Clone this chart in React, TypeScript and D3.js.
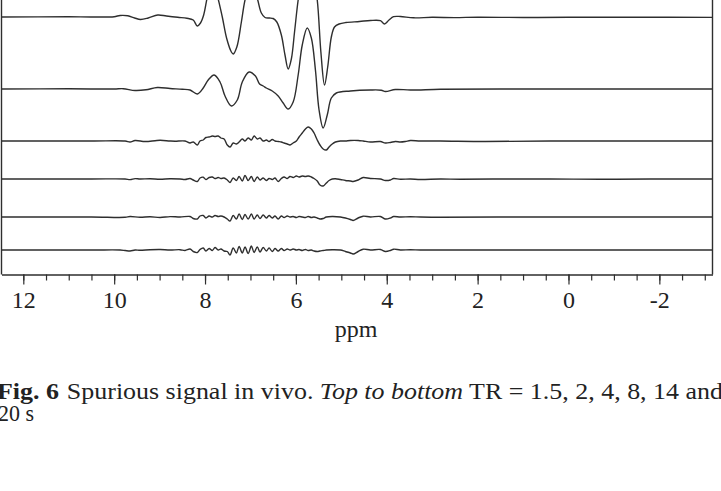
import React, { useEffect, useRef } from "react";
import * as d3 from "d3";

// spectra: [ppm, signal (a.u.)], top to bottom TR = 1.5, 2, 4, 8, 14, 20 s
const trLabels = ["1.5", "2", "4", "8", "14", "20"];
const stackOffsets = [233, 161, 109, 71, 33, 0];

const tr15: [number, number][] = [
  [12.48, 0], [11.0, 0.2], [10.5, 0], [10.0, 0.3], [9.87, 1.5], [9.7, 1.2], [9.55, -1], [9.42, -2.5],
  [9.25, -1], [9.04, 2], [8.85, 1], [8.6, -0.3], [8.4, -1.2], [8.26, -3], [8.17, -9], [8.1, -6],
  [8.03, 2], [7.95, 20], [7.85, 38], [7.78, 32], [7.72, 20], [7.62, 0], [7.52, -22], [7.42, -35],
  [7.38, -37], [7.3, -30], [7.2, -5], [7.12, 17], [7.02, 32], [6.92, 30], [6.84, 17], [6.76, 4],
  [6.68, -0.5], [6.58, -1], [6.5, -1.5], [6.42, -5], [6.32, -18], [6.24, -38], [6.17, -52], [6.1, -42],
  [6.03, -15], [5.95, 17], [5.85, 45], [5.73, 55], [5.62, 42], [5.53, 17], [5.45, -35], [5.37, -68],
  [5.3, -50], [5.22, -20], [5.15, -10], [5.05, -7], [4.9, -5.5], [4.6, -4.5], [4.36, -3.5], [4.14, -3.7],
  [4.05, -7], [3.95, -3], [3.85, 0.3], [3.7, 0.5], [3.41, -0.8], [3.0, -0.3], [2.5, -0.6], [2.0, -0.2],
  [1.0, -0.5], [0.0, -0.3], [-1.5, -0.2], [-3.17, -0.4],
];

const tr2: [number, number][] = [
  [12.48, 0], [11.0, 0.2], [10.0, 0], [9.8, 0.3], [9.54, -1.5], [9.3, -0.8], [9.05, 1.5], [8.77, 0.5],
  [8.5, -0.3], [8.33, -1], [8.17, -5], [8.04, 1], [7.93, 9], [7.8, 14], [7.67, 7], [7.56, -7],
  [7.42, -17], [7.29, -11], [7.18, 7], [7.03, 17], [6.89, 13], [6.8, 5], [6.72, 3], [6.65, 1],
  [6.52, -2], [6.39, -7], [6.28, -14], [6.17, -20], [6.06, -13], [5.95, 14], [5.86, 44], [5.75, 61],
  [5.66, 51], [5.57, 19], [5.49, -21], [5.4, -39], [5.31, -26], [5.22, -9], [5.11, -4], [4.8, -2],
  [4.36, -1], [4.12, -1.2], [4.03, -2.5], [3.81, -0.5], [3.48, -1], [2.82, -0.3], [1.5, 0], [-0.7, 0],
  [-3.17, 0],
];

const tr4: [number, number][] = [
  [12.48, 0], [10.5, 0], [9.76, 0], [9.65, -1], [9.54, 0.5], [9.32, -0.5], [9.1, 0.3], [8.99, 0.7],
  [8.77, 0], [8.66, -0.2], [8.44, 0], [8.33, -2], [8.26, -1], [8.17, -4], [8.11, 0], [8.04, 1],
  [7.98, 3.5], [7.91, 4], [7.84, 5], [7.78, 4.5], [7.71, 5], [7.65, 3], [7.58, 2], [7.51, -4],
  [7.45, -6], [7.38, -2], [7.31, -3], [7.25, -1], [7.18, 2], [7.12, 0], [7.05, 3], [6.98, 1],
  [6.92, 5], [6.85, 2], [6.79, 3], [6.72, 0], [6.65, 1], [6.59, -0.5], [6.52, 1.5], [6.46, 0],
  [6.39, -0.5], [6.32, -1], [6.26, -2], [6.19, -3], [6.13, -4], [6.06, -2], [5.99, 0], [5.93, 4],
  [5.86, 8], [5.79, 12], [5.73, 14], [5.66, 12], [5.6, 8], [5.53, 1], [5.47, -4], [5.4, -8],
  [5.33, -9], [5.27, -6], [5.2, -3], [5.13, -1], [5.02, 0], [4.91, 0], [4.8, 0.5], [4.63, 0.5],
  [4.52, 0], [4.36, -1], [4.14, -0.5], [4.03, -2], [3.92, -1.5], [3.81, -0.5], [3.7, -1], [3.59, -0.5],
  [3.48, 0.5], [3.26, 0], [2.82, 0], [1.83, -0.5], [0.4, 0], [-1.8, 0], [-3.17, 0],
];

const tr8: [number, number][] = [
  [12.48, 0], [10.5, 0], [9.76, 0], [9.65, -0.6], [9.54, 0.4], [9.43, 0], [9.21, 0.3], [8.99, -0.2],
  [8.77, 0.3], [8.55, 0], [8.44, -0.5], [8.33, 0.5], [8.26, -1], [8.17, -2.5], [8.11, 1], [8.04, 1.8],
  [7.98, -0.5], [7.91, 1.5], [7.84, 2], [7.78, 0.5], [7.71, 1.5], [7.65, 0.5], [7.58, 1], [7.51, -1],
  [7.45, -3.5], [7.38, 1], [7.31, -1.5], [7.25, 2.5], [7.18, -2], [7.12, 3.5], [7.05, -1.5], [6.98, 2.5],
  [6.92, -2.5], [6.85, 2], [6.79, -1], [6.72, 1], [6.65, -1.5], [6.59, 0.5], [6.52, -0.5], [6.46, 1],
  [6.39, -2.5], [6.32, 0.5], [6.26, 2], [6.19, 0.5], [6.13, 2.5], [6.06, 1.5], [5.99, 3], [5.93, 2],
  [5.86, 3], [5.79, 2.5], [5.73, 3], [5.66, 2], [5.6, 0.5], [5.53, -2], [5.47, -6], [5.4, -7],
  [5.33, -4], [5.27, -1.5], [5.2, 0], [5.13, 0.3], [5.02, -0.5], [4.91, -1.5], [4.8, -2], [4.74, -2.5],
  [4.63, -1], [4.52, 1.5], [4.36, 0.5], [4.14, 0], [4.03, -1.5], [3.92, -1], [3.85, 0.5], [3.7, -0.3],
  [3.48, 0], [3.26, -0.5], [2.82, 0], [2.38, -0.3], [1.5, 0], [0.4, 0], [-0.7, -0.3], [-1.8, 0],
  [-3.17, 0],
];

const tr14: [number, number][] = [
  [12.48, 0], [10.5, 0], [9.76, -0.3], [9.65, 0.5], [9.43, -0.3], [9.21, 0.3], [8.99, -0.5], [8.77, 0.4],
  [8.55, 0], [8.33, 0.5], [8.26, -1.5], [8.17, -2], [8.11, 1], [8.04, 1.5], [7.98, -1], [7.91, 1],
  [7.84, 0], [7.78, 1.5], [7.71, 0.5], [7.65, 1], [7.58, 0], [7.51, -2], [7.45, -4], [7.38, 1.5],
  [7.31, -2], [7.25, 3], [7.18, -2.5], [7.12, 2.5], [7.05, -2], [6.98, 3], [6.92, -2], [6.85, 2],
  [6.79, -1.5], [6.72, 2], [6.65, -1], [6.59, 1.5], [6.52, -1], [6.46, 1], [6.39, -2], [6.32, 1],
  [6.26, -0.5], [6.19, 1], [6.13, 0], [6.06, 0.5], [5.99, -0.5], [5.93, 0.5], [5.86, 0], [5.79, -0.5],
  [5.73, 0.5], [5.66, -0.5], [5.6, 0], [5.53, -1], [5.47, -2], [5.4, -1.5], [5.33, 0], [5.2, 0.5],
  [5.02, 0], [4.91, -1], [4.8, -2.5], [4.74, -3.5], [4.63, -1], [4.52, 0.8], [4.36, 0], [4.14, 0.5],
  [4.03, -2], [3.92, -1], [3.85, 0.5], [3.7, 0], [3.48, 0.3], [3.26, 0], [2.82, -0.3], [1.5, 0],
  [-0.7, 0], [-3.17, 0],
];

const tr20: [number, number][] = [
  [12.48, 0], [10.5, 0], [9.87, 0], [9.76, -0.5], [9.65, -1], [9.54, 0], [9.43, -0.3], [9.21, 0.3],
  [8.99, 0.5], [8.77, 0], [8.55, 0.3], [8.44, -0.5], [8.33, 1], [8.26, -1.5], [8.17, -2.5], [8.11, 0.5],
  [8.04, 2], [7.98, -1], [7.91, 1.5], [7.84, -0.5], [7.78, 2.5], [7.71, 0], [7.65, 1], [7.58, -1],
  [7.51, -1.5], [7.45, -5], [7.38, 2], [7.31, -3], [7.25, 3.5], [7.18, -3], [7.12, 3], [7.05, -3.5],
  [6.98, 4], [6.92, -2.5], [6.85, 3], [6.79, -2], [6.72, 2.5], [6.65, -1], [6.59, 2], [6.52, -1.5],
  [6.46, 1.5], [6.39, -1], [6.32, 1.5], [6.26, -0.5], [6.19, 1], [6.13, 0], [6.06, 1], [5.99, 0],
  [5.93, 0.5], [5.86, -0.5], [5.79, 0.5], [5.73, -0.5], [5.66, 0], [5.6, -1], [5.53, -1.5], [5.47, -1],
  [5.4, -0.5], [5.33, 0], [5.2, 0.3], [5.02, 0], [4.91, -1.5], [4.8, -3], [4.74, -4], [4.63, -1.5],
  [4.52, 0.8], [4.36, 0], [4.14, 0.5], [4.03, -1.5], [3.92, -0.5], [3.85, 0.8], [3.7, 0], [3.48, 0.3],
  [3.26, 0], [2.82, 0], [1.5, 0], [-0.7, 0], [-3.17, 0],
];

const spectra = [tr15, tr2, tr4, tr8, tr14, tr20];
const majorTicks = [12, 10, 8, 6, 4, 2, 0, -2];
const ppmDomain = [12.48, -3.17];

const W = 721;
const H = 491;
const ink = "#2e2e2e";
const serif = "Liberation Serif, Times New Roman, serif";

function Spectra() {
  const ref = useRef<SVGGElement>(null);

  useEffect(() => {
    const g = d3.select(ref.current);
    g.selectAll("*").remove();

    const x = d3.scaleLinear().domain(ppmDomain).range([1.5, 712.5]);
    const y = d3.scaleLinear().domain([-25, 275]).range([275, -25]);
    const axisY = 274.5;

    const line = d3
      .line<[number, number]>()
      .x((d) => x(d[0]))
      .curve(d3.curveCatmullRom.alpha(0.5));

    spectra.forEach((s, i) => {
      g.append("path")
        .datum(s)
        .attr("d", line.y((d) => y(d[1] + stackOffsets[i])))
        .attr("fill", "none")
        .attr("stroke", ink)
        .attr("stroke-width", 1.4)
        .attr("data-tr", trLabels[i]);
    });

    // frame sides
    g.append("path")
      .attr("d", `M1.5,-5V${axisY}M712.5,-5V${axisY}`)
      .attr("stroke", ink)
      .attr("stroke-width", 1.4)
      .attr("fill", "none");

    const minor = d3.range(12, -3.01, -0.5);
    const minorAxis = g
      .append("g")
      .attr("transform", `translate(0,${axisY})`)
      .call(d3.axisBottom(x).tickValues(minor).tickSize(6).tickSizeOuter(0).tickFormat(() => ""));
    minorAxis.select(".domain").attr("stroke", ink).attr("stroke-width", 1.4);
    minorAxis.selectAll("line").attr("stroke", ink).attr("stroke-width", 1.2);

    const majorAxis = g
      .append("g")
      .attr("transform", `translate(0,${axisY})`)
      .call(
        d3.axisBottom(x).tickValues(majorTicks).tickSize(10).tickSizeOuter(0).tickPadding(6)
          .tickFormat((d) => String(d))
      );
    majorAxis.select(".domain").remove();
    majorAxis.selectAll("line").attr("stroke", ink).attr("stroke-width", 1.2);
    majorAxis.attr("font-family", serif).attr("font-size", 24);
    majorAxis.selectAll("text").attr("fill", "#222");
  }, []);

  return <g ref={ref} />;
}

export default function App() {
  return (
    <svg
      width={W}
      height={H}
      viewBox={`0 0 ${W} ${H}`}
      style={{ position: "absolute", left: 0, top: 0, background: "#fff" }}
    >
      <rect width={W} height={H} fill="#fff" />
      <Spectra />
      <text x={356} y={337} textAnchor="middle" fontFamily={serif} fontSize={24} fill="#222">
        ppm
      </text>
      <text x={-3} y={399} fontFamily={serif} fontSize={23} fill="#222" textLength={726} lengthAdjust="spacingAndGlyphs">
        <tspan fontWeight="bold">Fig. 6</tspan>
        <tspan dx={7}>Spurious signal in vivo. </tspan>
        <tspan fontStyle="italic">Top to bottom</tspan>
        <tspan> TR = 1.5, 2, 4, 8, 14 and</tspan>
      </text>
      <text x={-2} y={421} fontFamily={serif} fontSize={23} fill="#222" textLength={36} lengthAdjust="spacingAndGlyphs">
        20 s
      </text>
    </svg>
  );
}
